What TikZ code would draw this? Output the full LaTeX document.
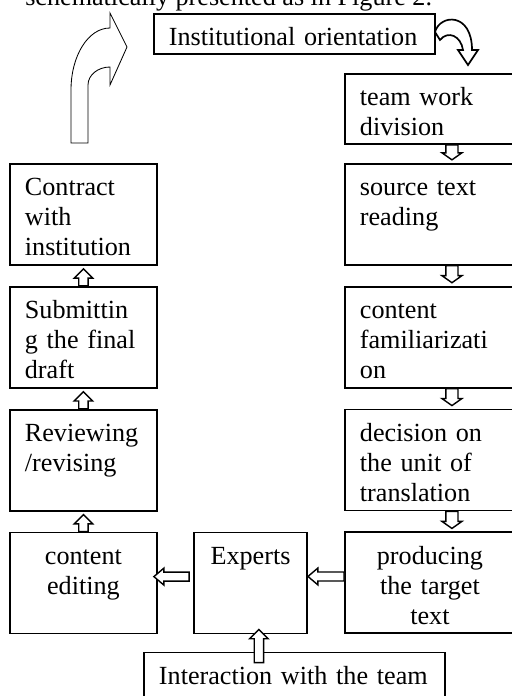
\documentclass[tikz,border=0pt]{standalone}
\usepackage{fontspec}
\setmainfont{Liberation Serif}
\usetikzlibrary{calc,positioning}
\tikzset{
  stepbox/.style args={#1,#2}{
  draw=black,
  line width=1.3pt,
  inner xsep=0.375cm,
  inner ysep=0pt,
  text width=#1 cm,
  text height=0.8cm,
  text depth=#2 cm,
  align=left,
  },
  midbox/.style args={#1,#2}{stepbox={#1,#2},align=center},
  block/.style={draw=black,line width=1pt,fill=white},
  upblock/.style args={(#1) to (#2)}{
    insert path={
    let
    \p1=(#1),
    \p2=(#2)
      in
      (\x1-3.3pt,\y1) -- (\x1-3.3pt,\y2-6.6pt) -- (\x1-6.6pt,\y2-6.6pt) -- (\x1,\y2)
      -- (\x1+6.6pt,\y2-6.6pt) -- (\x1+3.3pt,\y2-6.6pt) -- (\x1+3.3pt,\y1) -- cycle
    }
  },
  downblock/.style args={(#1) to (#2)}{
    insert path={
    let
    \p1=(#1),
    \p2=(#2)
      in
      (\x1-4.3pt,\y1) -- (\x1-4.3pt,\y2+5pt) -- (\x1-7.1pt,\y2+5pt) -- (\x1,\y2)
      -- (\x1+7.1pt,\y2+5pt) -- (\x1+4.3pt,\y2+5pt) -- (\x1+4.3pt,\y1) -- cycle
    }
  },
  leftblock/.style args={(#1) to (#2)}{
    insert path={
    let
    \p1=(#1),
    \p2=(#2)
      in
      (\x1,\y1-3.2pt) -- (\x2+7.1pt,\y1-3.2pt) -- (\x2+7.1pt,\y1-6pt) -- (\x2,\y1)
      -- (\x2+7.1pt,\y1+6pt) -- (\x2+7.1pt,\y1+3.2pt) -- (\x1,\y1+3.2pt) -- cycle
    }
  }
}

\begin{document}
\begin{tikzpicture}[x=0.025cm,y=-0.025cm,font=\fontsize{18.6pt}{21.3pt}\selectfont,node distance=0.5cm]
  \useasboundingbox (0,0) rectangle (512,696);
  \clip (0,0) rectangle (512,696);

  \node [anchor=base west,inner sep=0pt] (cap) at (25,6) {schematically presented as in Figure 2.};
  \node [stepbox={6.275,0.2},anchor=north west] (inst) at (153,13) {Institutional orientation};

  \node [stepbox={3.5,0.95},anchor=north west] (team) at (344,73) {team work\\division};
  \node [stepbox={3.5,1.725},below=0.45cm of team] (src) {source text\\reading};
  \node [stepbox={3.5,1.725},below=of src] (fam) {content\\familiarizati\\on};
  \node [stepbox={3.5,1.725},below=of fam] (dec) {decision on\\the unit of\\translation};
  \node [midbox={3.5,1.725},below=of dec] (prod) {producing\\the target\\text};

  \node [stepbox={2.925,1.725},anchor=north west] (contr) at (9,163) {Contract\\with\\institution};
  \node [stepbox={2.925,1.725},below=of contr] (sub) {Submittin\\g the final\\draft};
  \node [stepbox={2.925,1.725},below=of sub] (rev) {Reviewing\\/revising};
  \node [midbox={2.925,1.725},below=of rev] (edit) {content\\editing};
  \node [midbox={2.075,1.725},right=0.88cm of edit] (expt) {Experts};
  \node [stepbox={6.775,1.5},below=0.43cm of expt,xshift=1.1cm] (inter) {Interaction with the team};

  \foreach \a/\b in {sub/contr,rev/sub,edit/rev}
    \draw[block,upblock={(\a.north) to ([yshift=-0.075cm]\b.south)}];
  \foreach \a/\b in {team/src,src/fam,fam/dec,dec/prod}
    \draw[block,downblock={([xshift=0.55cm]\a.south) to ([xshift=0.55cm,yshift=0.075cm]\b.north)}];
  \draw[block,leftblock={([yshift=0.16cm]prod.west) to ([yshift=0.16cm]expt.east)}];
  \draw[block,leftblock={([xshift=-0.1cm,yshift=0.16cm]expt.west) to ([xshift=-0.1cm,yshift=0.16cm]edit.east)}];
  \draw[block,upblock={([xshift=-0.89cm,yshift=-0.275cm]inter.north) to ([xshift=0.21cm,yshift=0.125cm]expt.south)}];

  \draw[line width=0.6pt] (71,143) -- (71,90) .. controls (71,56) and (88,28) .. (110,28) -- (110,13)
    -- (127,47) -- (110,85) -- (110,67) .. controls (98,67) and (88,75) .. (88,85) -- (88,143) -- cycle;
  \draw[line width=1.2pt] (435,32) .. controls (440,14) and (472,12) .. (472,50) -- (478,50) -- (468,65)
    -- (458,50) -- (463,50) .. controls (461,36) and (448,30) .. (440,40) -- cycle;
\end{tikzpicture}
\end{document}
